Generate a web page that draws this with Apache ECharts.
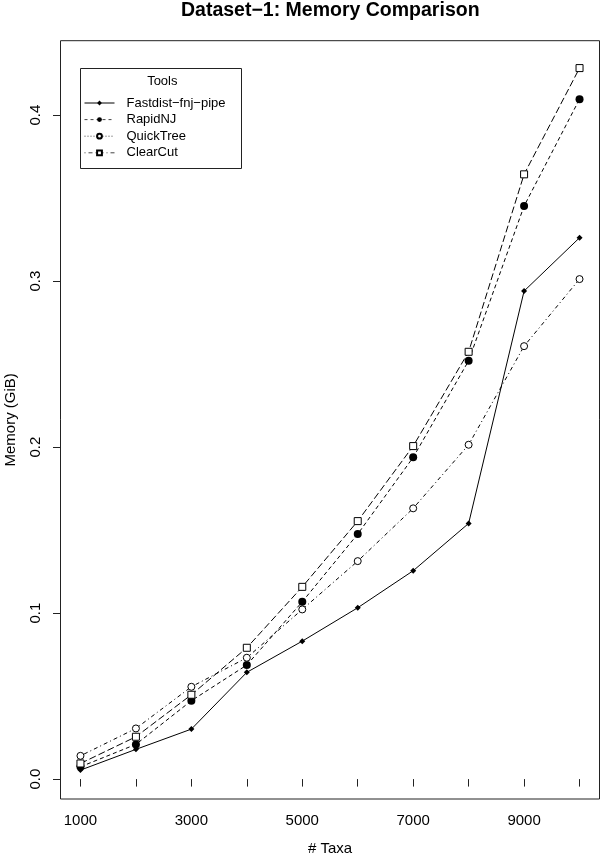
<!DOCTYPE html>
<html>
<head>
<meta charset="utf-8">
<script src="https://cdn.jsdelivr.net/npm/echarts@6/dist/echarts.min.js"></script>
<style>html,body{margin:0;padding:0;background:#fff}#c{width:600px;height:855px}</style>
</head>
<body>
<div id="c"></div>
<script>
var taxa = [1000, 2000, 3000, 4000, 5000, 6000, 7000, 8000, 9000, 10000];
var fastdist = [0.0054, 0.0179, 0.0301, 0.0643, 0.0831, 0.1032, 0.1255, 0.1540, 0.2940, 0.3261];
var rapidnj = [0.0074, 0.0209, 0.0472, 0.0687, 0.1068, 0.1476, 0.1938, 0.2520, 0.3452, 0.4096];
var quicktree = [0.0140, 0.0305, 0.0556, 0.0731, 0.1022, 0.1313, 0.1631, 0.2014, 0.2608, 0.3012];
var clearcut = [0.0094, 0.0255, 0.0508, 0.0791, 0.1158, 0.1554, 0.2006, 0.2574, 0.3643, 0.4283];
var seriesNames = ['Fastdist\u2212fnj\u2212pipe', 'RapidNJ', 'QuickTree', 'ClearCut'];
var xTicks = [1000, 2000, 3000, 4000, 5000, 6000, 7000, 8000, 9000, 10000];
var xLabels = [1000, 3000, 5000, 7000, 9000];
var yTicks = [0, 0.1, 0.2, 0.3, 0.4];

var FONT = '"Liberation Sans", Arial, Helvetica, sans-serif';
function pairs(vals) { return taxa.map(function (t, i) { return [t, vals[i]]; }); }

var chart = echarts.init(document.getElementById('c'), null, {renderer: 'canvas'});
chart.setOption({
  animation: false,
  backgroundColor: '#fff',
  textStyle: {fontFamily: FONT, color: '#000'},
  title: {
    text: 'Dataset\u22121: Memory Comparison',
    left: 181, top: 1, padding: 0,
    textStyle: {fontFamily: FONT, fontSize: 19.5, fontWeight: 'bold', color: '#000'}
  },
  grid: {
    left: 60.5, right: 0.5, top: 40.7, bottom: 56,
    show: true, borderColor: '#222', borderWidth: 1,
    containLabel: false, outerBoundsMode: 'none'
  },
  legend: {
    orient: 'vertical',
    left: 84, top: 96,
    itemWidth: 30, itemHeight: 6, itemGap: 2.6,
    padding: 0,
    textStyle: {fontFamily: FONT, fontSize: 13, color: '#000', lineHeight: 14, padding: [0, 0, 0, 7]},
    data: [
      {name: seriesNames[0], lineStyle: {type: 'solid', width: 1}},
      {name: seriesNames[1], lineStyle: {type: [3, 3], width: 1, color: '#444'}},
      {name: seriesNames[2], lineStyle: {type: [1, 2], width: 1, color: '#444'}},
      {name: seriesNames[3], lineStyle: {type: [1, 3, 4, 3], width: 1, color: '#444'}}
    ]
  },
  graphic: [
    {type: 'rect', shape: {x: 80.5, y: 68.5, width: 161, height: 100}, style: {fill: 'none', stroke: '#222', lineWidth: 1}, z: 0},
    {type: 'text', x: 162.3, y: 81.7, style: {text: 'Tools', fontFamily: FONT, fontSize: 13, fill: '#000', textAlign: 'center', textVerticalAlign: 'middle'}}
  ],
  xAxis: {
    type: 'value', min: 640, max: 10360,
    name: '# Taxa', nameLocation: 'middle', nameGap: 42.5,
    nameTextStyle: {fontFamily: FONT, fontSize: 15, color: '#000'},
    axisLine: {show: false},
    axisTick: {show: true, inside: false, length: 7.5, customValues: xTicks, lineStyle: {color: '#222', width: 1}},
    axisLabel: {customValues: xLabels, margin: 14, fontFamily: FONT, fontSize: 15, color: '#000',
      formatter: function (v) { return String(v); }},
    splitLine: {show: false}
  },
  yAxis: {
    type: 'value', min: -0.012, max: 0.4448,
    name: 'Memory (GiB)', nameLocation: 'middle', nameGap: 42, nameRotate: 90,
    nameTextStyle: {fontFamily: FONT, fontSize: 15, color: '#000'},
    axisLine: {show: false},
    axisTick: {show: true, inside: false, length: 7.5, customValues: yTicks, lineStyle: {color: '#222', width: 1}},
    axisLabel: {customValues: yTicks, rotate: 90, margin: 17.5, fontFamily: FONT, fontSize: 15, color: '#000',
      formatter: function (v) { return v.toFixed(1); }},
    splitLine: {show: false}
  },
  series: [
    {
      name: seriesNames[0], type: 'line', data: pairs(fastdist),
      symbol: 'diamond', symbolSize: 6,
      lineStyle: {color: '#000', width: 1, type: 'solid'},
      itemStyle: {color: '#000'}
    },
    {
      name: seriesNames[1], type: 'line', data: pairs(rapidnj),
      symbol: 'circle', symbolSize: 8,
      lineStyle: {color: '#000', width: 1, type: [4, 3]},
      itemStyle: {color: '#000'}
    },
    {
      name: seriesNames[2], type: 'line', data: pairs(quicktree),
      symbol: 'circle', symbolSize: 7,
      lineStyle: {color: '#000', width: 1, type: [1, 3, 4, 3]},
      itemStyle: {color: '#fff', borderColor: '#000', borderWidth: 1}
    },
    {
      name: seriesNames[3], type: 'line', data: pairs(clearcut),
      symbol: 'rect', symbolSize: 7,
      lineStyle: {color: '#000', width: 1, type: [7, 3]},
      itemStyle: {color: '#fff', borderColor: '#000', borderWidth: 1}
    }
  ]
});
</script>
</body>
</html>
